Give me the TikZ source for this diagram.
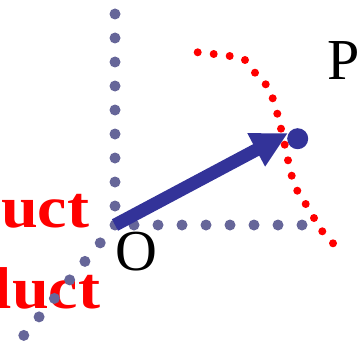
\documentclass[tikz,border=0pt]{standalone}
\usepackage{fontspec}
\setmainfont{Liberation Serif}
\newfontfamily\redwordfont{Liberation Serif}[FakeStretch=1.12]
\usetikzlibrary{arrows.meta}
\definecolor{axisdot}{RGB}{102,102,153}
\definecolor{vecblue}{RGB}{51,51,153}
\definecolor{pured}{RGB}{255,0,0}
\begin{document}
\begin{tikzpicture}[x=1pt,y=-1pt,
  axisdots/.style={draw=axisdot, line width=11pt, line cap=round, dash pattern=on 0pt off 24pt},
  reddot/.style={fill=pured},
  vecarrow/.style={draw=vecblue, line width=13pt, -{Triangle[length=36pt,width=35pt]}},
  pdot/.style={circle, fill=vecblue, minimum size=21pt, inner sep=0pt},
  redlabel/.style={text=pured, font=\redwordfont\bfseries\fontsize{59}{59}\selectfont, inner sep=0pt},
  lbl/.style={font=\fontsize{58}{58}\selectfont, inner sep=0pt}]
\useasboundingbox (0,0) rectangle (364,345);
\clip (0,0) rectangle (364,345);
% red words (cropped at the left edge, as in the reference)
\node[redlabel, anchor=base east] (dotword) at (89.5,227) {uct};
\node[redlabel, anchor=base east] (crossword) at (100.5,308.5) {luct};
% axes
\coordinate (O) at (115,225);
\coordinate (ytop) at (115,14);
\coordinate (xend) at (302,225);
\coordinate (zend) at (23.8,335.4);
\draw[axisdots] (ytop) -- (O);
\draw[axisdots] (xend) -- (O);
\draw[axisdots] (zend) -- (O);
\fill[axisdot] (O) circle (5.5);
% vector
\coordinate (tip) at (288,133);
\draw[vecarrow] (O) -- (tip);
\node[pdot] (P) at (297.7,138.7) {};
% red dotted arc
\foreach \px/\py in {197.7/52.3, 213.7/54, 229.7/56, 245/60, 255/72.7, 265.7/84.3,
  272.7/98.3, 277.3/113.7, 281/128.7, 284.7/144.7, 288/160.3, 291.7/175.7,
  297.3/190.7, 305.7/204, 314/218, 322.3/231.3, 333/243.3}
  \fill[reddot] (\px,\py) circle (4);
% labels
\node[lbl, anchor=base] (Olabel) at (136.7,270) {O};
\node[lbl, anchor=base west] (Plabel) at (327,79) {P};
\end{tikzpicture}
\end{document}
